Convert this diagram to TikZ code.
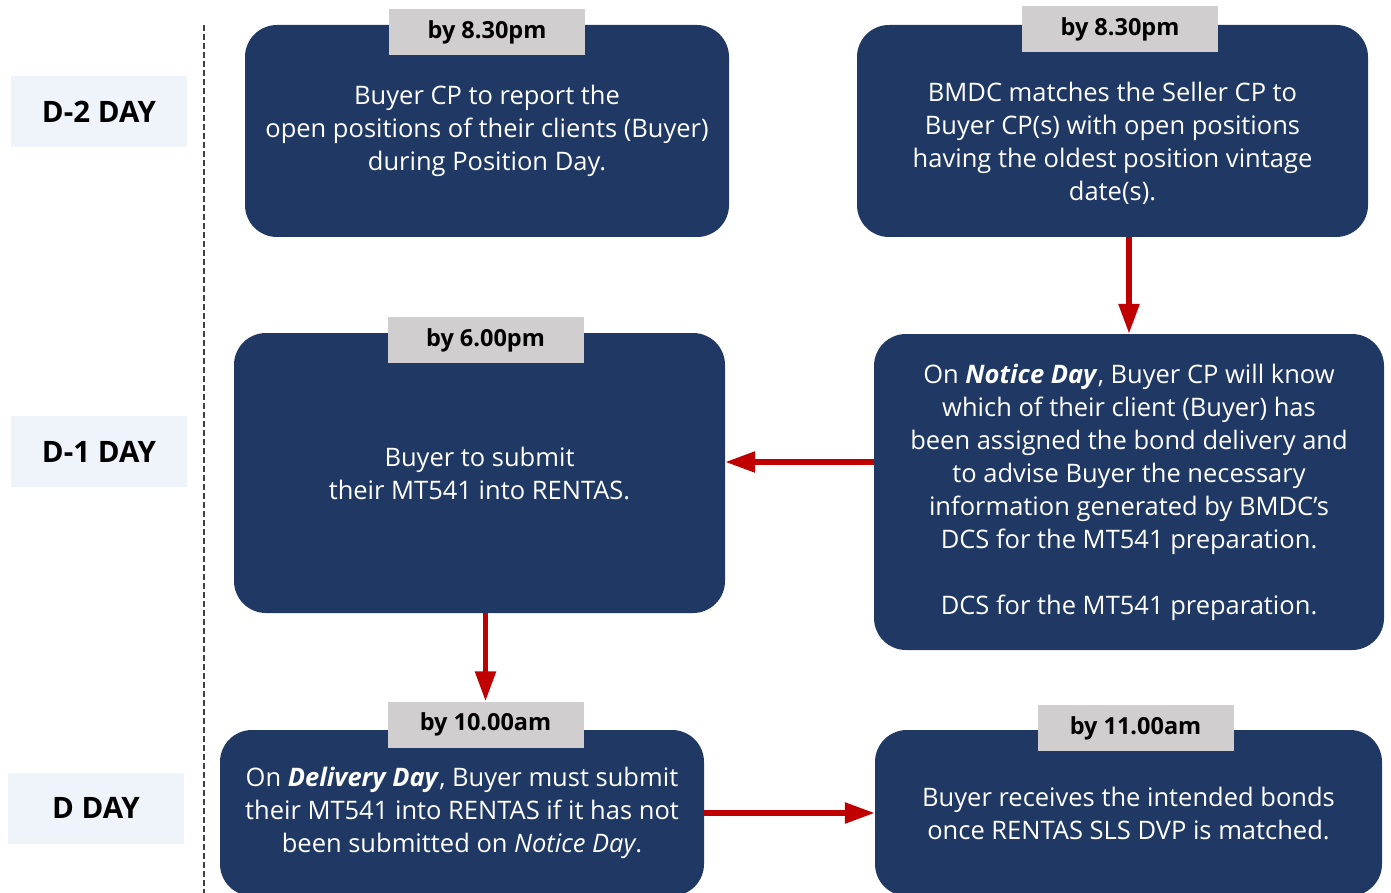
\documentclass[tikz,border=0pt]{standalone}
\usepackage{fontspec}
\setmainfont{Open Sans}
\usetikzlibrary{arrows.meta}

\definecolor{navy}{HTML}{203864}
\definecolor{flowred}{HTML}{C00000}
\definecolor{taggray}{HTML}{D0CECE}
\definecolor{dayfill}{HTML}{EFF4FB}

\tikzset{
  daybox/.style={fill=dayfill, minimum width=176pt, minimum height=71pt,
    font=\fontsize{29.5}{33}\selectfont\bfseries},
  timetag/.style={fill=taggray, minimum width=196pt, minimum height=46pt,
    font=\fontsize{23.5}{27}\selectfont\bfseries},
  taskbox/.style={fill=navy, text=white, rounded corners=32pt, align=center,
    font=\fontsize{25.5}{33}\selectfont},
  flow/.style={draw=flowred, line width=5.5pt, -{Triangle[length=30pt,width=20pt]}}
}

\begin{document}
\begin{tikzpicture}[x=1pt, y=-1pt]
    \useasboundingbox (0,0) rectangle (1391,893);
    \clip (0,0) rectangle (1391,893);

    \def \Days {
      dtwo/99/111.5/D-2 DAY,
      done/99/451.5/D-1 DAY,
      dzero/96/808/D DAY}

    \foreach \id / \x / \y / \txt in \Days {
      \node[daybox] (\id) at (\x, \y) {\txt};
    }

    \draw[black!75, line width=1.5pt, dash pattern=on 6pt off 3pt] (204,25) -- (204,893);

    % task boxes
    \node[taskbox, minimum width=484pt, minimum height=212pt] (report) at (487,131)
      {Buyer CP to report the\\ open positions of their clients (Buyer)\\ during Position Day.};
    \node[taskbox, minimum width=511pt, minimum height=212pt] (match) at (1112.5,131)
      {\strut\\[-13pt] BMDC matches the Seller CP to\\ Buyer CP(s) with open positions\\
       having the oldest position vintage\\ date(s).};
    \node[taskbox, minimum width=491pt, minimum height=280pt] (submit) at (479.5,473)
      {Buyer to submit\\ their MT541 into RENTAS.};
    \node[taskbox, minimum width=510pt, minimum height=316pt] (notice) at (1129,492)
      {On \textbf{\textit{Notice Day}}, Buyer CP will know\\ which of their client (Buyer) has\\
       been assigned the bond delivery and\\ to advise Buyer the necessary\\
       information generated by BMDC’s\\ DCS for the MT541 preparation.\\[33pt]
       DCS for the MT541 preparation.};
    \node[taskbox, minimum width=484pt, minimum height=166pt] (deliver) at (462,813)
      {On \textbf{\textit{Delivery Day}}, Buyer must submit\\ their MT541 into RENTAS if it has not\\
       been submitted on \textit{Notice Day}.};
    \node[taskbox, minimum width=507pt, minimum height=166pt] (receive) at (1128.5,813)
      {Buyer receives the intended bonds\\ once RENTAS SLS DVP is matched.};

    \def \Tags {
      treport/487/32/by 8.30pm,
      tmatch/1120/29.5/by 8.30pm,
      tsubmit/485.5/340/by 6.00pm,
      tdeliver/485.5/724.5/by 10.00am,
      treceive/1135.5/728/by 11.00am}

    \foreach \id / \x / \y / \txt in \Tags {
      \node[timetag] (\id) at (\x, \y) {\txt};
    }

    \draw[flow] (match.south -| notice.north) -- (notice.north);
    \draw[flow] ([yshift=30pt]notice.west) -- ([yshift=30pt]notice.west -| submit.east);
    \draw[flow] (submit.south -| tdeliver.north) -- (tdeliver.north);
    \draw[flow] (deliver) -- (receive);
  \end{tikzpicture}
\end{document}
